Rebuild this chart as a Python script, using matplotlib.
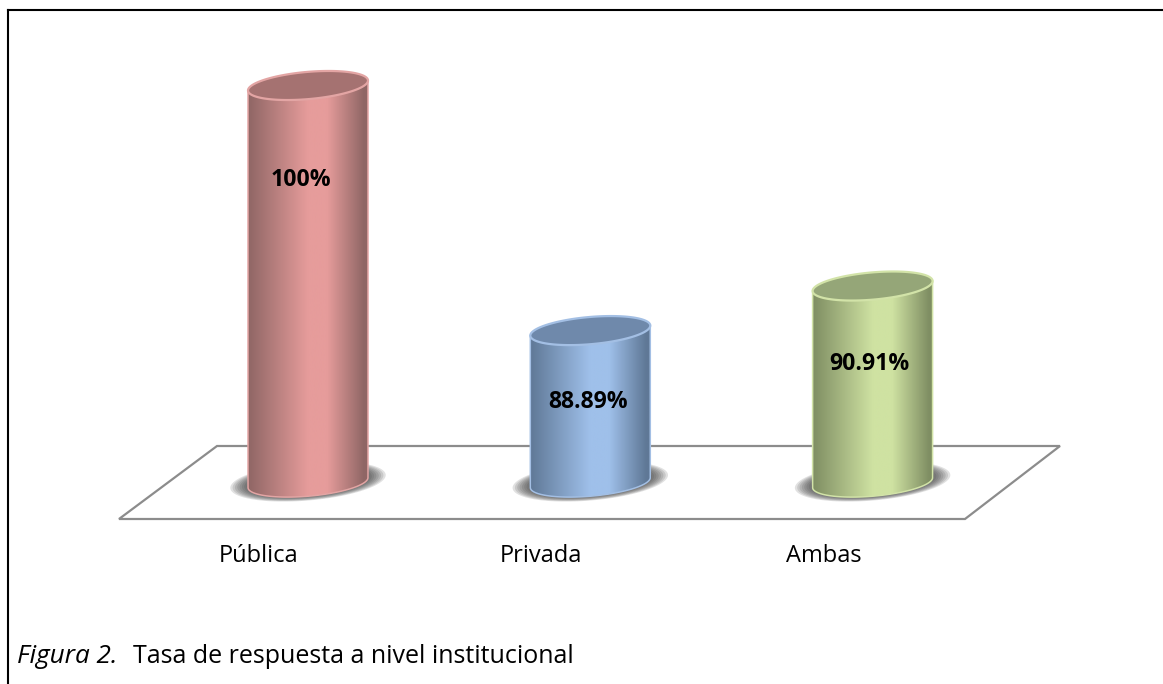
import numpy as np
import matplotlib
matplotlib.use("Agg")
import matplotlib.pyplot as plt
from matplotlib.colors import LinearSegmentedColormap
from matplotlib.patches import Polygon

# data
categories = ["Pública", "Privada", "Ambas"]
tasa = [100, 88.89, 90.91]
etiquetas = ["100%", "88.89%", "90.91%"]

# colours per bar: edge of gradient, middle of gradient, top, rim
dark_cols = ["#8f6665", "#5f7896", "#7f8e63"]
light_cols = ["#e69c9b", "#9fc0ea", "#cfe2a2"]
top_cols = ["#a57271", "#6f89ab", "#95a678"]
rim_cols = ["#e3a5a4", "#a3bfe4", "#d2e3a8"]

W, H = 1163, 684
base = 82.0      # value where the bars stand
x0_px, dx_px = 308.0, 282.3
y100_px, dy_px = 85.5, 22.06   # pixels per percent


def to_x(px):
    return (px - x0_px) / dx_px


def to_y(py):
    return 100 - (py - y100_px) / dy_px


def ellipse(cx, val, a=60.2, b=13.6, theta=5.0, n=361):
    # tilted ellipse, a and b in pixels, centred on (cx, val) in data units
    t = np.linspace(0, 2 * np.pi, n)[:-1]
    th = np.radians(theta)
    ox = a * np.cos(t) * np.cos(th) - b * np.sin(t) * np.sin(th)
    oy = a * np.cos(t) * np.sin(th) + b * np.sin(t) * np.cos(th)
    return cx + ox / dx_px, val + oy / dy_px


fig = plt.figure(figsize=(W / 100, H / 100), dpi=100)
ax = fig.add_axes([0, 0, 1, 1])
ax.axis("off")
xlim = (to_x(0), to_x(W))
ylim = (to_y(H), to_y(0))

# page frame, only left and top are visible
ax.plot([to_x(7.5), to_x(7.5)], [to_y(H), to_y(10)], color="black", lw=1.5, zorder=1)
ax.plot([to_x(7.5), to_x(W)], [to_y(10), to_y(10)], color="black", lw=1.5, zorder=1)

# floor of the chart
floor_x = [to_x(119), to_x(965), to_x(1060), to_x(217)]
floor_y = [to_y(519), to_y(519), to_y(446), to_y(446)]
ax.add_patch(Polygon(np.c_[floor_x, floor_y], closed=True, fc="white", ec="#8c8c8c", lw=1.6, zorder=2))

for i, val in enumerate(tasa):
    # soft shadow under the bar
    for k in np.linspace(1, 0.5, 16):
        sx, sy = ellipse(i, base + 0.05, a=70 * k + 8, b=17 * k + 2)
        ax.fill(sx, sy, color="#3a3a3a", alpha=0.15, lw=0, zorder=3)

    # body: lower arc of base ellipse, closed under the top ellipse
    tx, ty = ellipse(i, val)
    bx, by = ellipse(i, base)
    left, right = np.argmin(bx), np.argmax(bx)
    arc = np.roll(np.arange(len(bx)), -left)[: (right - left) % len(bx) + 1]
    body_x = np.r_[tx[left], bx[arc], tx[right]]
    body_y = np.r_[ty[left], by[arc], ty[right]]
    body = Polygon(np.c_[body_x, body_y], closed=True, fc="none",
                   ec=rim_cols[i], lw=1.1, zorder=5)
    ax.add_patch(body)

    cmap = LinearSegmentedColormap.from_list(
        "cyl", [(0, dark_cols[i]), (0.5, light_cols[i]), (0.66, light_cols[i]),
                (0.97, dark_cols[i]), (1, dark_cols[i])])
    im = ax.imshow(np.linspace(0, 1, 256)[None, :], cmap=cmap, aspect="auto",
                   extent=(bx.min(), bx.max(), base - 1, val + 1), zorder=4)
    im.set_clip_path(body)

    ax.fill(tx, ty, fc=top_cols[i], ec=rim_cols[i], lw=1.6, zorder=6)

# value labels
lab_dx = [-7, -2, -3]
lab_py = [180, 402, 364]
for i, txt in enumerate(etiquetas):
    ax.text(i + lab_dx[i] / dx_px, to_y(lab_py[i]), txt, ha="center", va="center",
            fontsize=16.6, fontweight="bold", family="Open Sans", color="black", zorder=7)

# category labels, they sit left of the bars in the original
for i, txt in enumerate(categories):
    ax.text(i - 49 / dx_px, to_y(556.5), txt, ha="center", va="center",
            fontsize=17, family="Open Sans", color="black", zorder=7)

# caption
ax.text(to_x(17), to_y(663), "Figura 2.", style="italic", fontsize=18.8,
        family="Open Sans", ha="left", va="baseline")
ax.text(to_x(133), to_y(663), "Tasa de respuesta a nivel institucional", fontsize=18,
        family="Open Sans", ha="left", va="baseline")

ax.set_xlim(xlim)
ax.set_ylim(ylim)
fig.savefig("out.png", dpi=100, facecolor="white")
